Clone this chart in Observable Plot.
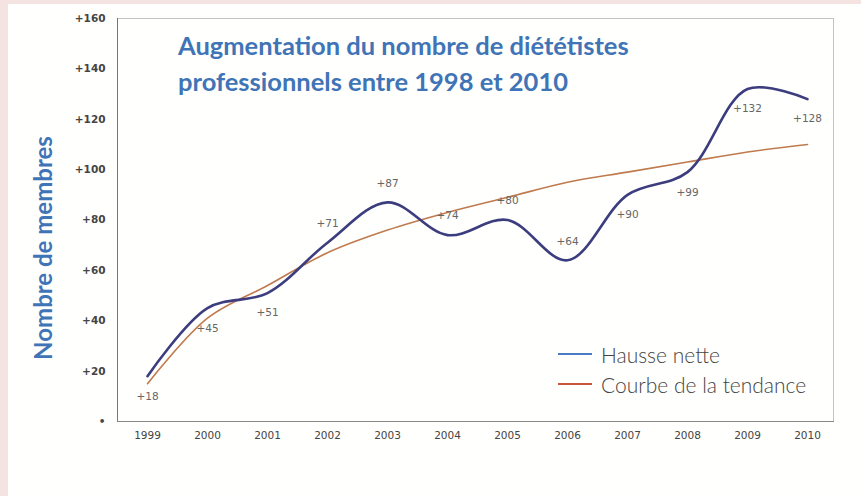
<!DOCTYPE html>
<html>
<head>
<meta charset="utf-8">
<script src="https://cdn.jsdelivr.net/npm/d3@7"></script>
<script src="https://cdn.jsdelivr.net/npm/@observablehq/plot@0.6"></script>
<style>
  html, body { margin: 0; padding: 0; width: 861px; height: 496px; overflow: hidden; background: #f4e3e0; }
  #panel { position: absolute; left: 8px; top: 4px; width: 853px; height: 492px; background: #fffffd; }
  #title { position: absolute; left: 178px; top: 27px; font-family: Lato, "Open Sans", sans-serif; font-weight: 700; font-size: 25.5px; line-height: 36px; color: #3f74b6; white-space: nowrap; }
  #ylabel { position: absolute; left: 42px; top: 248px; transform: translate(-50%, -50%) rotate(-90deg); font-family: Lato, "Open Sans", sans-serif; font-weight: 700; font-size: 24px; color: #3f74b6; white-space: nowrap; }
  #legend { position: absolute; left: 558px; top: 339px; font-family: Lato, "Open Sans", sans-serif; font-weight: 300; font-size: 21px; color: #444; }
  .item { display: flex; align-items: center; height: 30px; }
  .sw { width: 34px; height: 2px; margin-right: 9px; }
</style>
</head>
<body>
<div id="panel"></div>
<script>
const years = [1999, 2000, 2001, 2002, 2003, 2004, 2005, 2006, 2007, 2008, 2009, 2010];
const hausse = [18, 45, 51, 71, 87, 74, 80, 64, 90, 99, 132, 128];
const hausseLabels = ["+18", "+45", "+51", "+71", "+87", "+74", "+80", "+64", "+90", "+99", "+132", "+128"];
const labelSide = ["below", "below", "below", "above", "above", "above", "above", "above", "below", "below", "below", "below"];
const tendance = [15, 41, 54, 67, 76, 83, 89, 95, 99, 103, 107, 110];
const yTicks = [0, 20, 40, 60, 80, 100, 120, 140, 160];
const yTickLabels = ["•", "+20", "+40", "+60", "+80", "+100", "+120", "+140", "+160"];
const seriesNames = ["Hausse nette", "Courbe de la tendance"];

const rows = years.map((yr, i) => ({year: yr, hausse: hausse[i], label: hausseLabels[i], side: labelSide[i], tendance: tendance[i]}));

const chart = Plot.plot({
  width: 853,
  height: 492,
  marginLeft: 109,
  marginRight: 28,
  marginTop: 14,
  marginBottom: 75,
  insetLeft: 30,
  insetRight: 26,
  style: {background: "transparent", fontFamily: "'DejaVu Sans', sans-serif", color: "#333"},
  x: {type: "linear", domain: [1999, 2010]},
  y: {domain: [0, 160]},
  marks: [
    Plot.frame({stroke: "#c4c4c4"}),
    Plot.frame({anchor: "left", stroke: "#777"}),
    Plot.frame({anchor: "bottom", stroke: "#888"}),
    Plot.axisY({ticks: yTicks, tickFormat: d => yTickLabels[yTicks.indexOf(d)], tickSize: 0, tickPadding: 12, fontSize: 10.5, fontWeight: "bold", fill: "#444", label: null}),
    Plot.axisX({ticks: years, tickFormat: d => String(d), tickSize: 0, tickPadding: 10, fontSize: 10.5, fill: "#444", label: null}),
    Plot.line(rows, {x: "year", y: "tendance", curve: "catmull-rom", stroke: "#bf7a4e", strokeWidth: 1.6}),
    Plot.line(rows, {x: "year", y: "hausse", curve: "catmull-rom", stroke: "#3c3d7e", strokeWidth: 2.6}),
    Plot.text(rows.filter(d => d.side === "below"), {x: "year", y: "hausse", text: "label", dy: 20, fontSize: 10.5, fill: "#666"}),
    Plot.text(rows.filter(d => d.side === "above"), {x: "year", y: "hausse", text: "label", dy: -19, fontSize: 10.5, fill: "#666"})
  ]
});
chart.style.position = "absolute";
chart.style.left = "8px";
chart.style.top = "4px";
document.body.appendChild(chart);

const title = document.createElement("div");
title.id = "title";
title.innerHTML = "Augmentation du nombre de diététistes<br>professionnels entre 1998 et 2010";
document.body.appendChild(title);

const ylab = document.createElement("div");
ylab.id = "ylabel";
ylab.textContent = "Nombre de membres";
document.body.appendChild(ylab);

const legend = document.createElement("div");
legend.id = "legend";
const legendColors = ["#4a7cc4", "#c8553a"];
seriesNames.forEach((name, i) => {
  const it = document.createElement("div");
  it.className = "item";
  const sw = document.createElement("div");
  sw.className = "sw";
  sw.style.background = legendColors[i];
  const tx = document.createElement("span");
  tx.textContent = name;
  it.appendChild(sw);
  it.appendChild(tx);
  legend.appendChild(it);
});
document.body.appendChild(legend);
</script>
</body>
</html>
